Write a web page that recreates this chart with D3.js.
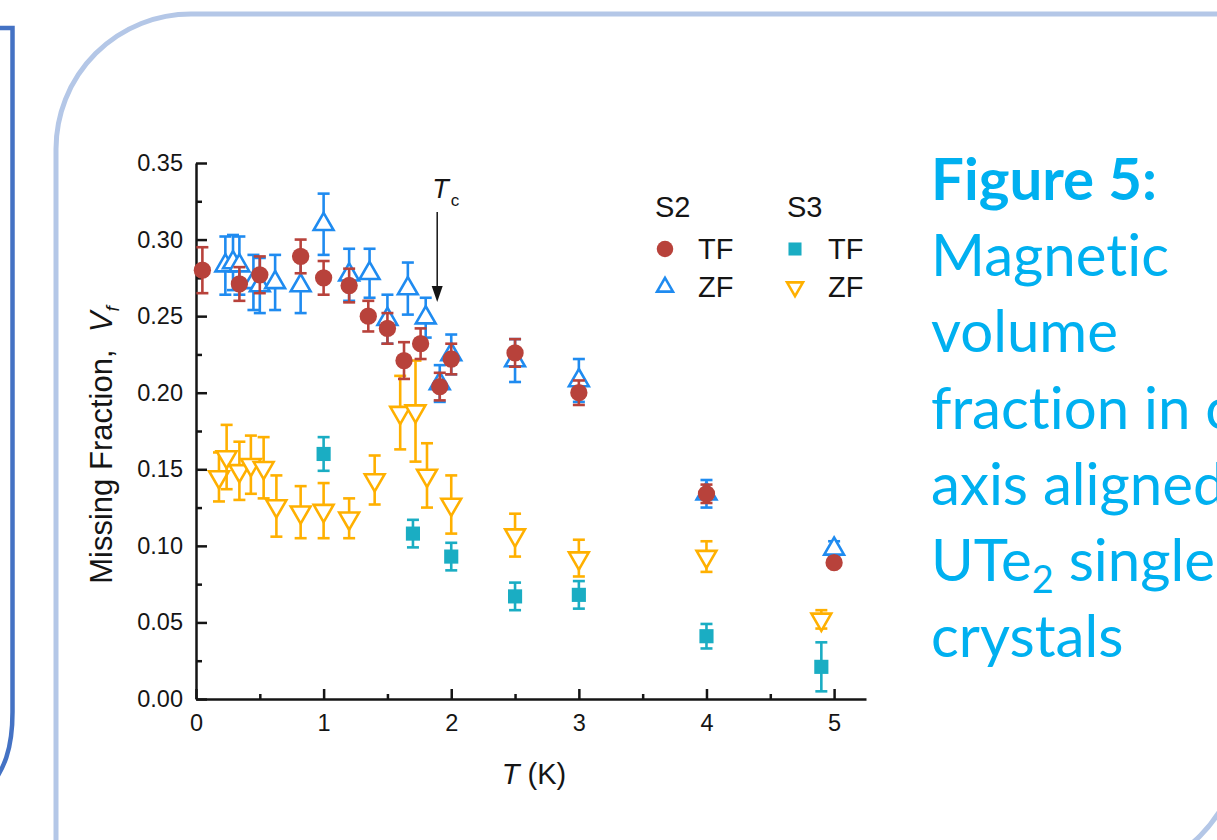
<!DOCTYPE html>
<html>
<head>
<meta charset="utf-8">
<script src="https://cdn.jsdelivr.net/npm/d3@7"></script>
<style>
  body { margin: 0; background: #fff; overflow: hidden; }
  svg { display: block; }
</style>
</head>
<body>
<div id="chart"></div>
<script>
// S2, transverse field (red circles)
var s2tfT = [0.05, 0.34, 0.50, 0.82, 1.00, 1.20, 1.35, 1.50, 1.63, 1.76, 1.91, 2.00, 2.50, 3.00, 4.00, 5.00];
var s2tfV = [0.280, 0.271, 0.277, 0.289, 0.275, 0.270, 0.250, 0.242, 0.221, 0.232, 0.204, 0.222, 0.226, 0.200, 0.134, 0.089];
var s2tfE = [0.015, 0.011, 0.012, 0.011, 0.011, 0.011, 0.010, 0.010, 0.012, 0.010, 0.009, 0.010, 0.009, 0.008, 0.006, 0.000];

// S2, zero field (blue open triangles)
var s2zfT = [0.23, 0.29, 0.34, 0.45, 0.50, 0.62, 0.82, 1.00, 1.20, 1.36, 1.50, 1.66, 1.80, 1.91, 2.00, 2.50, 3.00, 4.00, 5.00];
var s2zfV = [0.283, 0.285, 0.283, 0.272, 0.270, 0.272, 0.270, 0.310, 0.277, 0.278, 0.248, 0.268, 0.249, 0.206, 0.225, 0.221, 0.208, 0.134, 0.098];
var s2zfE = [0.019, 0.018, 0.019, 0.018, 0.018, 0.018, 0.018, 0.020, 0.017, 0.016, 0.016, 0.017, 0.013, 0.012, 0.013, 0.014, 0.014, 0.009, 0.005];

// S3, transverse field (teal squares)
var s3tfT = [1.00, 1.70, 2.00, 2.50, 3.00, 4.00, 4.90];
var s3tfV = [0.160, 0.108, 0.093, 0.067, 0.068, 0.041, 0.021];
var s3tfE = [0.011, 0.009, 0.009, 0.009, 0.009, 0.008, 0.016];

// S3, zero field (orange open down-triangles)
var s3zfT = [0.18, 0.24, 0.34, 0.43, 0.53, 0.63, 0.82, 1.00, 1.20, 1.40, 1.60, 1.72, 1.81, 2.00, 2.50, 3.00, 4.00, 4.90];
var s3zfV = [0.145, 0.158, 0.149, 0.153, 0.151, 0.126, 0.122, 0.123, 0.118, 0.143, 0.187, 0.188, 0.146, 0.127, 0.107, 0.092, 0.093, 0.052];
var s3zfE = [0.016, 0.021, 0.019, 0.019, 0.020, 0.020, 0.017, 0.018, 0.013, 0.016, 0.024, 0.033, 0.021, 0.019, 0.014, 0.012, 0.010, 0.006];

var xTicks = [0, 1, 2, 3, 4, 5];
var xMinor = [0.5, 1.5, 2.5, 3.5, 4.5];
var yTicks = [0, 0.05, 0.10, 0.15, 0.20, 0.25, 0.30, 0.35];
var yMinor = [0.025, 0.075, 0.125, 0.175, 0.225, 0.275, 0.325];
var tcValue = 1.89;

var captionLines = ["Magnetic", "volume", "fraction in c-", "axis aligned"];

function pack(t, v, e) {
    return t.map(function (d, i) { return { t: d, v: v[i], e: e[i] }; });
}

var W = 1217, H = 840;
var svg = d3.select("#chart").append("svg").attr("width", W).attr("height", H);

// slide frames
svg.append("path")
    .attr("d", "M-20,28 L12.5,28 L12.5,712 C12.5,748 5,770 -14,792")
    .attr("fill", "none").attr("stroke", "#4472C4").attr("stroke-width", 4.5);

// round diagonal corner rectangle (top-left and bottom-right rounded)
var fx0 = 56, fy0 = 14, fx1 = 1240, fy1 = 875, fr = 135;
svg.append("path")
    .attr("d", "M" + fx0 + "," + fy1 +
        " L" + fx0 + "," + (fy0 + fr) +
        " A" + fr + "," + fr + " 0 0 1 " + (fx0 + fr) + "," + fy0 +
        " L" + fx1 + "," + fy0 +
        " L" + fx1 + "," + (fy1 - fr) +
        " A" + fr + "," + fr + " 0 0 1 " + (fx1 - fr) + "," + fy1 + " Z")
    .attr("fill", "none").attr("stroke", "#B4C7E7").attr("stroke-width", 5);

// chart
var x = d3.scaleLinear().domain([0, 5.25]).range([196, 866]);
var y = d3.scaleLinear().domain([0, 0.35]).range([699, 163]);

var axisFont = "'Liberation Sans', Arial, sans-serif";
var ink = "#151515";

svg.append("g").attr("transform", "translate(0,699)")
    .call(d3.axisBottom(x).tickValues(xTicks).tickSize(-10).tickSizeOuter(0).tickPadding(15)
        .tickFormat(d3.format("d")));
svg.append("g").attr("transform", "translate(0,699)")
    .call(d3.axisBottom(x).tickValues(xMinor).tickSize(-5).tickFormat(""))
    .call(g => g.select(".domain").remove());

svg.append("g").attr("transform", "translate(196,0)")
    .call(d3.axisLeft(y).tickValues(yTicks).tickSize(-11).tickSizeOuter(0).tickPadding(13)
        .tickFormat(d3.format(".2f")));
svg.append("g").attr("transform", "translate(196,0)")
    .call(d3.axisLeft(y).tickValues(yMinor).tickSize(-6).tickFormat(""))
    .call(g => g.select(".domain").remove());

svg.selectAll(".domain, .tick line").attr("stroke", ink).attr("stroke-width", 2.5);
svg.selectAll(".tick text").attr("fill", ink).style("font-family", axisFont).style("font-size", "23.5px");

// axis titles
var xt = svg.append("text").attr("x", 534).attr("y", 784).attr("text-anchor", "middle")
    .style("font-family", axisFont).style("font-size", "29px").attr("fill", ink);
xt.append("tspan").style("font-style", "italic").text("T");
xt.append("tspan").text(" (K)");

var yt = svg.append("text").attr("transform", "translate(112,445) rotate(-90)").attr("text-anchor", "middle")
    .style("font-family", axisFont).style("font-size", "31px").attr("fill", ink);
yt.append("tspan").text("Missing Fraction,\u00a0\u00a0");
yt.append("tspan").style("font-style", "italic").text("V");
yt.append("tspan").style("font-style", "italic").style("font-size", "19px").attr("dy", 7).text("f");

// Tc marker
var tcx = x(tcValue);
var tc = svg.append("text").attr("x", tcx - 5).attr("y", 198)
    .style("font-family", axisFont).style("font-size", "27px").attr("fill", ink);
tc.append("tspan").style("font-style", "italic").text("T");
tc.append("tspan").style("font-size", "17px").attr("dy", 8).attr("dx", 2).text("c");
svg.append("line").attr("x1", tcx).attr("x2", tcx).attr("y1", 212).attr("y2", 290)
    .attr("stroke", ink).attr("stroke-width", 1.5);
svg.append("path").attr("d", "M" + (tcx - 5.5) + ",286 L" + (tcx + 5.5) + ",286 L" + tcx + ",302 Z").attr("fill", ink);

// series
var series = [
    { data: pack(s3zfT, s3zfV, s3zfE), color: "#FFB000", shape: "down" },
    { data: pack(s3tfT, s3tfV, s3tfE), color: "#1AADC3", shape: "square" },
    { data: pack(s2zfT, s2zfV, s2zfE), color: "#1F8BF0", shape: "up" },
    { data: pack(s2tfT, s2tfV, s2tfE), color: "#B8423B", shape: "circle" }
];

function marker(sel, shape, color, size) {
    if (shape == "circle") {
        sel.attr("d", d3.symbol(d3.symbolCircle, size || 235)).attr("fill", color);
    } else if (shape == "square") {
        sel.attr("d", d3.symbol(d3.symbolSquare, size || 200)).attr("fill", color);
    } else {
        sel.attr("d", d3.symbol(d3.symbolTriangle, size || 170)).attr("fill", "#fff")
            .attr("stroke", color).attr("stroke-width", 2.6).attr("stroke-linejoin", "miter");
    }
}

series.forEach(function (s) {
    var g = svg.append("g");
    var pts = g.selectAll("g").data(s.data).enter().append("g")
        .attr("transform", d => "translate(" + x(d.t) + ",0)");
    var eb = pts.filter(d => d.e > 0);
    eb.append("line").attr("y1", d => y(d.v - d.e)).attr("y2", d => y(d.v + d.e))
        .attr("stroke", s.color).attr("stroke-width", 2.6);
    eb.append("line").attr("x1", -6).attr("x2", 6).attr("y1", d => y(d.v + d.e)).attr("y2", d => y(d.v + d.e))
        .attr("stroke", s.color).attr("stroke-width", 2.6);
    eb.append("line").attr("x1", -6).attr("x2", 6).attr("y1", d => y(d.v - d.e)).attr("y2", d => y(d.v - d.e))
        .attr("stroke", s.color).attr("stroke-width", 2.6);
    pts.append("path")
        .attr("transform", d => "translate(0," + y(d.v) + ")" + (s.shape == "down" ? " rotate(180)" : ""))
        .call(marker, s.shape, s.color);
});

// legend
var lg = svg.append("g").style("font-family", axisFont).attr("fill", ink);
lg.append("text").attr("x", 655).attr("y", 217).style("font-size", "29px").text("S2");
lg.append("text").attr("x", 787).attr("y", 217).style("font-size", "29px").text("S3");
var legendItems = [
    { x: 665, y: 249, label: "TF", s: series[3], size: 215 },
    { x: 665, y: 287, label: "ZF", s: series[2], size: 110 },
    { x: 795, y: 249, label: "TF", s: series[1], size: 170 },
    { x: 795, y: 287, label: "ZF", s: series[0], size: 110 }
];
legendItems.forEach(function (it) {
    lg.append("path")
        .attr("transform", "translate(" + it.x + "," + it.y + ")" + (it.s.shape == "down" ? " rotate(180)" : ""))
        .call(marker, it.s.shape, it.s.color, it.size);
    lg.append("text").attr("x", it.x + 33).attr("y", it.y + 9.5).style("font-size", "29px").text(it.label);
});

// caption on the right
var capFont = "Lato, 'Open Sans', sans-serif";
var cap = svg.append("g").style("font-family", capFont).style("font-variant-ligatures", "none")
    .style("font-feature-settings", "'liga' 0").attr("fill", "#00B0F0");
var probe = cap.append("text").style("font-size", "60px").text("Magnetic");
var fs = 60 * 238 / probe.node().getComputedTextLength();
probe.remove();
var lineY = 200, lineStep = 76.2;
cap.append("text").attr("x", 931).attr("y", lineY).style("font-size", fs + "px").style("font-weight", "bold").text("Figure 5:");
captionLines.forEach(function (t, i) {
    cap.append("text").attr("x", 931).attr("y", lineY + (i + 1) * lineStep).style("font-size", fs + "px").text(t);
});
var ute = cap.append("text").attr("x", 931).attr("y", lineY + 5 * lineStep).style("font-size", fs + "px");
ute.append("tspan").text("UTe");
ute.append("tspan").attr("dy", 12).style("font-size", (fs * 0.65) + "px").text("2");
ute.append("tspan").attr("dy", -12).text(" single");
cap.append("text").attr("x", 931).attr("y", lineY + 6 * lineStep).style("font-size", fs + "px").text("crystals");
</script>
</body>
</html>
